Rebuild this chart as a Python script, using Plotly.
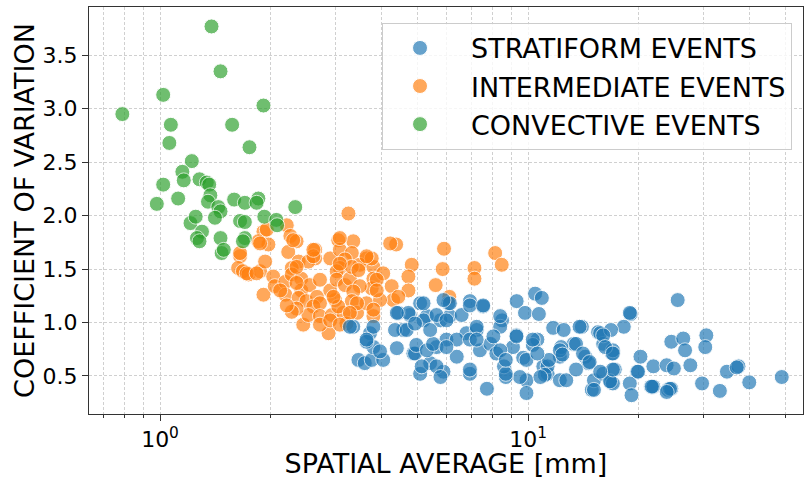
import plotly.graph_objects as go

# ---------------- data ----------------
strat_x = [10.45, 10.9, 9.31, 9.81, 10.7, 25.5, 19.0, 18.2, 14.0, 15.5, 16.0, 16.9, 20.2, 19.8, 18.9, 19.1,
           21.9, 21.6, 21.9, 23.8, 24.9, 24.0, 24.5, 24.5, 26.4, 26.7, 27.6, 29.7, 30.5, 30.3, 33.2, 34.7,
           37.3, 39.9, 48.9, 14.9, 15.1, 16.0, 16.8, 17.2, 14.3, 14.6, 13.3, 12.2, 12.3, 11.7, 12.5, 11.0,
           11.3, 12.2, 10.6, 10.3, 9.7, 9.9, 9.9, 9.5, 8.7, 9.1, 9.3, 8.5, 8.4, 7.73, 7.55, 6.95, 6.95, 7.4,
           7.9, 8.2, 8.6, 6.4, 5.89, 6.0, 5.78, 6.13, 6.07, 6.6, 6.8, 5.09, 5.09, 4.88, 5.42, 4.58, 4.77,
           5.31, 5.64, 7.25, 8.4,
           3.46, 3.60, 3.76, 4.04, 3.80, 3.72, 3.64, 3.80, 3.35, 3.96, 4.40, 4.35, 4.44, 4.73, 4.68, 4.93,
           5.14, 4.97, 5.31, 5.52, 5.64, 5.78, 5.20, 5.20, 5.64, 6.0, 6.13, 5.89, 6.4, 6.0, 6.95, 6.95,
           4.93, 5.42,
           7.55, 7.25, 7.25, 8.05, 8.4, 9.3, 10.3, 9.9, 8.7, 11.3, 11.4, 12.2, 12.4, 13.8, 13.5, 14.1,
           14.7, 15.7, 17.0, 17.0, 15.1, 12.7, 11.1, 6.95, 8.7, 10.6, 10.8, 13.5,
           18.9, 16.8, 16.0, 16.2, 17.0, 19.9, 21.7, 24.3, 23.8, 16.7, 17.0, 15.7, 36.9,
           3.28, 3.64, 4.40]
strat_y = [1.27, 1.23, 1.20, 1.09, 1.08, 1.21, 1.08, 0.96, 0.96, 0.91, 0.80, 0.71, 0.68, 0.54, 0.43, 0.32,
           0.59, 0.40, 0.40, 0.60, 0.57, 0.37, 0.38, 0.82, 0.85, 0.74, 0.60, 0.43, 0.88, 0.77, 0.36, 0.54,
           0.59, 0.44, 0.49, 0.37, 0.46, 0.52, 0.44, 0.56, 0.68, 0.62, 0.80, 0.68, 0.77, 0.95, 0.93, 0.59,
           0.52, 0.46, 0.84, 0.79, 0.67, 0.46, 0.34, 0.49, 0.49, 0.77, 0.88, 1.02, 0.96, 0.38, 1.15, 1.20, 0.52, 0.74,
           0.80, 0.71, 0.59, 0.68, 0.54, 0.84, 1.02, 1.06, 1.18, 1.07, 0.90, 1.18, 0.52, 0.71, 0.62, 0.93, 1.07,
           1.06, 0.77, 0.93, 1.06,
           0.65, 0.62, 0.65, 0.65, 0.77, 0.90, 0.82, 0.96, 0.96, 0.73, 0.76, 0.93, 1.09, 1.09, 0.93, 0.71,
           0.59, 0.79, 0.74, 0.80, 0.59, 0.49, 1.18, 1.02, 1.07, 1.02, 1.18, 1.21, 0.84, 0.77, 1.16, 0.84,
           0.99, 0.93,
           1.16, 0.96, 0.84, 0.87, 0.74, 0.87, 0.84, 0.65, 0.52, 0.59, 0.65, 0.74, 0.70, 0.96, 0.80, 0.71,
           0.63, 0.90, 0.74, 0.43, 0.37, 0.46, 0.51, 0.56, 0.65, 0.71, 0.49, 0.56,
           1.09, 0.93, 0.88, 0.77, 0.71, 0.54, 0.40, 0.38, 0.35, 0.45, 0.56, 0.54, 0.58,
           0.96, 0.84, 1.09]

inter_x = [3.25, 1.91, 2.21, 2.26, 1.97, 1.85, 2.35, 2.23, 2.38, 2.28, 2.64, 2.64, 2.53, 2.90, 3.05, 3.08,
           3.35, 3.32, 3.18, 3.64, 3.49, 3.08, 3.02, 1.65, 1.63, 1.68, 1.74, 1.87, 1.93, 2.03, 1.91, 2.05,
           2.19, 2.28, 2.42, 2.19, 2.12, 2.42, 2.55, 2.38, 2.50, 2.67, 2.61, 2.72, 2.45, 2.53, 2.72, 2.87,
           2.93, 2.99, 2.90, 3.02, 3.18, 3.28, 3.32, 3.46, 3.80, 3.80, 3.76, 3.49, 3.35, 3.32, 3.43, 3.15,
           3.05, 3.64, 3.80, 3.21, 2.72, 2.35, 2.28,
           4.38, 5.91, 8.14, 8.48, 5.86, 7.15, 7.15, 4.83, 4.73, 4.04, 4.73, 5.61, 6.11, 4.26, 3.88, 3.76,
           4.30, 3.96, 4.44, 3.80,
           2.61, 3.08, 3.64, 4.22, 2.35, 2.35, 2.72, 2.96, 3.43, 3.88, 3.28, 2.90,
           1.72, 2.21, 3.08, 1.83, 3.08, 1.95, 2.30, 2.61, 1.87, 1.65]
inter_y = [2.02, 1.85, 1.91, 1.81, 1.73, 1.76, 1.76, 1.66, 1.57, 1.51, 1.68, 1.60, 1.57, 1.60, 1.77, 1.68,
           1.76, 1.65, 1.59, 1.60, 1.54, 1.51, 1.48, 1.62, 1.51, 1.48, 1.45, 1.48, 1.57, 1.43, 1.26, 1.34,
           1.38, 1.45, 1.41, 1.26, 1.30, 1.30, 1.35, 1.23, 1.20, 1.24, 1.15, 1.18, 0.98, 1.07, 1.06, 0.90,
           1.07, 1.21, 1.30, 1.40, 1.35, 1.41, 1.52, 1.49, 1.52, 1.41, 1.32, 1.34, 1.29, 1.20, 1.09, 1.09,
           1.15, 1.18, 1.06, 0.99, 0.98, 1.13, 1.10,
           1.73, 1.69, 1.65, 1.54, 1.50, 1.51, 1.41, 1.54, 1.43, 1.46, 1.30, 1.35, 1.24, 1.34, 1.40, 1.60,
           1.21, 1.21, 1.24, 1.12,
           1.62, 1.55, 1.62, 1.74, 1.52, 1.37, 1.40, 1.24, 1.18, 1.30, 1.09, 1.02,
           1.46, 1.16, 0.98, 1.46, 1.79, 1.87, 1.77, 1.68, 1.74, 1.65]

conv_x = [0.79, 1.38, 1.46, 1.02, 1.91, 1.07, 1.57, 1.06, 1.75, 1.22, 1.15, 1.16, 1.02, 1.28, 1.34, 1.36,
          0.98, 1.12, 1.37, 1.35, 1.44, 1.46, 1.41, 1.59, 1.70, 1.85, 1.83, 2.33, 1.92, 2.07, 1.21, 1.25,
          1.65, 1.70, 1.30, 1.26, 1.46, 1.47, 1.49, 1.70, 2.08, 1.68, 1.28]
conv_y = [2.95, 3.77, 3.35, 3.13, 3.03, 2.85, 2.85, 2.68, 2.64, 2.51, 2.41, 2.33, 2.29, 2.34, 2.31, 2.29,
          2.11, 2.16, 2.19, 2.13, 2.08, 2.04, 1.98, 2.15, 2.12, 2.16, 2.12, 2.08, 1.99, 1.96, 1.93, 1.99,
          1.95, 1.94, 1.85, 1.79, 1.79, 1.65, 1.68, 1.79, 1.91, 1.76, 1.76]

names = ["STRATIFORM EVENTS", "INTERMEDIATE EVENTS", "CONVECTIVE EVENTS"]
colors = ["#1f77b4", "#ff7f0e", "#2ca02c"]

x_ticks = [1, 10]
x_ticktext = ["10<sup>0</sup>", "10<sup>1</sup>"]
y_ticks = [0.5, 1.0, 1.5, 2.0, 2.5, 3.0, 3.5]

FONT = "DejaVu Sans"
GRID = "#d0d0d0"
PAD = "\u00a0\u2009"  # small gap between legend symbol and label

fig = go.Figure()

series = [(inter_x, inter_y, 1), (conv_x, conv_y, 2), (strat_x, strat_y, 0)]
for xs, ys, idx in series:
    fig.add_trace(go.Scatter(
        x=xs, y=ys, mode="markers", name=PAD + names[idx], legendrank=idx + 1,
        marker=dict(size=15, color=colors[idx], opacity=0.68,
                    line=dict(color="white", width=1)),
    ))

fig.update_layout(
    width=805, height=479,
    margin=dict(l=89, r=2, t=7, b=65),
    paper_bgcolor="white", plot_bgcolor="white",
    font=dict(family=FONT, color="black"),
    showlegend=True,
    legend=dict(
        x=0.4104, y=0.961, xanchor="left", yanchor="top",
        font=dict(family=FONT, size=27, color="black"),
        bgcolor="rgba(255,255,255,0.8)", bordercolor="#cccccc", borderwidth=1,
        itemwidth=64,
    ),
)

fig.update_xaxes(
    type="log", range=[-0.193, 1.747], automargin=False,
    tickvals=x_ticks, ticktext=x_ticktext,
    tickfont=dict(size=22, family=FONT), ticks="outside", ticklen=6, tickcolor="#333",
    showline=True, linecolor="#333", linewidth=1, mirror=True,
    showgrid=True, gridcolor=GRID, griddash="3px,2px", gridwidth=1,
    minor=dict(ticks="outside", ticklen=3, tickcolor="#333", showgrid=True,
               gridcolor=GRID, griddash="3px,2px", dtick="D1"),
    zeroline=False,
    title=dict(text="SPATIAL AVERAGE [mm]", font=dict(size=27, family=FONT), standoff=8),
)
fig.update_yaxes(
    range=[0.144, 3.952], automargin=False,
    tickvals=y_ticks, ticktext=[f"{v:.1f}" for v in y_ticks],
    tickfont=dict(size=22, family=FONT), ticks="outside", ticklen=6, tickcolor="#333",
    showline=True, linecolor="#333", linewidth=1, mirror=True,
    showgrid=True, gridcolor=GRID, griddash="3px,2px", gridwidth=1,
    zeroline=False,
    title=dict(text="COEFFICIENT OF VARIATION", font=dict(size=27, family=FONT), standoff=0),
)

fig.write_html("out.html", config={"displayModeBar": False},
               post_script="document.body.style.margin='0';document.body.style.overflow='hidden';")
